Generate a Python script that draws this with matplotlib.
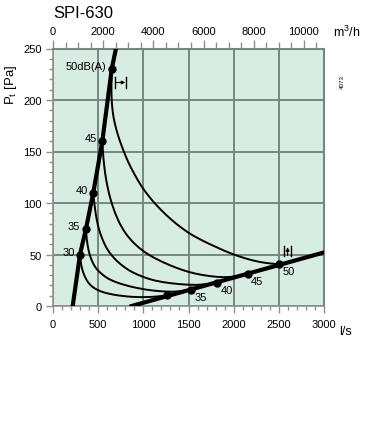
import numpy as np
import matplotlib
matplotlib.use("Agg")
import matplotlib.pyplot as plt
from matplotlib.path import Path
from matplotlib.patches import PathPatch
from matplotlib.ticker import MultipleLocator

plt.rcParams['font.family'] = ['Liberation Sans', 'DejaVu Sans']

# ---------- data (l/s, Pa) ----------
levels = [30, 35, 40, 45, 50]

# steep system line, dB points on it
left_q = [299, 365, 446, 546, 650]
left_p = [50, 75, 110, 160, 230]
left_end_q = [218, 697]
left_end_p = [0, 250]

# flat system line, dB points on it
right_q = [1260, 1530, 1820, 2155, 2500]
right_p = [10.5, 16, 22.5, 31, 40.5]
right_line_q = [871, 3000]
right_line_p = [0, 52]

# iso-sound curves
curve_30_q = [299, 304, 312, 325, 345, 372, 410, 460, 530, 612, 720, 871, 1000, 1129, 1200, 1260]
curve_30_p = [50, 45, 40, 35, 30, 25, 20.5, 17, 14, 12, 10.2, 8.8, 8.5, 9, 9.7, 10.5]
curve_35_q = [365, 370, 378, 391, 410, 440, 465, 502, 560, 620, 700, 760, 850, 960, 1055, 1200,
              1314, 1420, 1530]
curve_35_p = [75, 68, 62, 55, 48.5, 42, 38, 34, 29.5, 26, 23, 21.3, 19, 17, 15.5, 14.2,
              13.8, 14.3, 16]
curve_40_q = [446, 452, 460, 475, 495, 520, 560, 600, 650, 720, 800, 871, 1000, 1129, 1300,
              1498, 1650, 1820]
curve_40_p = [110, 104, 98, 88, 79, 71, 62, 55, 49, 42.5, 37, 33, 28, 24.5, 22,
              20.5, 20.5, 22.5]
curve_45_q = [546, 552, 562, 576, 600, 631, 686, 760, 850, 944, 1050, 1203, 1350, 1498, 1650,
              1830, 1950, 2050, 2155]
curve_45_p = [160, 150, 140, 129, 117, 105, 90, 76, 65, 57, 50, 43, 37.5, 33, 30,
              28, 28, 29.2, 31]
curve_50_q = [650, 646, 648, 656, 670, 690, 715, 745, 779, 830, 900, 980, 1060, 1148, 1250,
              1360, 1498, 1600, 1700, 1800, 1900, 2000, 2100, 2200, 2300, 2400, 2500]
curve_50_p = [230, 215, 202, 192, 183, 175, 167, 159, 151, 140, 128, 116, 106.5, 97.5, 88.5,
              80, 71, 66, 61.5, 57.5, 53.5, 50, 47, 44.5, 42.5, 41.3, 40.5]

curves_q = [curve_30_q, curve_35_q, curve_40_q, curve_45_q, curve_50_q]
curves_p = [curve_30_p, curve_35_p, curve_40_p, curve_45_p, curve_50_p]

left_labels = ["30", "35", "40", "45", "50dB(A)"]
right_labels = ["", "35", "40", "45", "50"]

x_ticks = [0, 500, 1000, 1500, 2000, 2500, 3000]
y_ticks = [0, 50, 100, 150, 200, 250]
top_ticks = [0, 2000, 4000, 6000, 8000, 10000]


def smooth_path(xs, ys):
    # quadratic b-spline path through the read points (matplotlib draws the beziers)
    pts = list(zip(xs, ys))
    verts = [pts[0]]
    codes = [Path.MOVETO]
    for i in range(1, len(pts) - 1):
        a, b = pts[i], pts[i + 1]
        end = b if i == len(pts) - 2 else ((a[0] + b[0]) / 2, (a[1] + b[1]) / 2)
        verts += [a, end]
        codes += [Path.CURVE3, Path.CURVE3]
    return Path(verts, codes)


# ---------- figure ----------
W, H = 368, 427
BG = "#d7ece2"
GRID = "#74887e"
AXC = "#8f8f8f"

fig = plt.figure(figsize=(W / 100, H / 100), dpi=100)
ax = fig.add_axes([53 / W, 1 - 307 / H, 271 / W, 257.5 / H])
ax.set_facecolor(BG)
ax.set_xlim(0, 3000)
ax.set_ylim(0, 250)

ax.set_xticks(x_ticks)
ax.set_yticks(y_ticks)
ax.xaxis.set_minor_locator(MultipleLocator(100))
ax.yaxis.set_minor_locator(MultipleLocator(10))
ax.grid(True, which="major", color=GRID, lw=1.4)
ax.tick_params(which="major", direction="out", length=5, width=1, color=AXC,
               labelsize=8, pad=3)
ax.tick_params(which="minor", direction="out", length=3, width=1, color=AXC)
ax.tick_params(axis="x", pad=4)

for s in ["left", "bottom"]:
    ax.spines[s].set_color(AXC)
    ax.spines[s].set_linewidth(1.2)
for s in ["top", "right"]:
    ax.spines[s].set_color(GRID)
    ax.spines[s].set_linewidth(1.5)

# top axis in m3/h
sec = ax.secondary_xaxis("top", functions=(lambda q: q * 3.6, lambda m: m / 3.6))
sec.set_xticks(top_ticks)
sec.xaxis.set_minor_locator(MultipleLocator(500))
sec.tick_params(which="major", direction="out", length=6, width=1, color=AXC,
                labelsize=8, pad=3)
sec.tick_params(which="minor", direction="out", length=4, width=1, color=AXC)
sec.spines["top"].set_visible(False)

# ---------- curves ----------
for cq, cp in zip(curves_q, curves_p):
    ax.add_patch(PathPatch(smooth_path(cq, cp), facecolor="none", edgecolor="black",
                           lw=1.4, capstyle="round", zorder=3))

ax.plot([left_end_q[0]] + left_q + [left_end_q[1]],
        [left_end_p[0]] + left_p + [left_end_p[1]],
        color="black", lw=3, zorder=4)
ax.plot(right_line_q, right_line_p, color="black", lw=3, zorder=4)
ax.plot(left_q, left_p, "o", color="black", ms=5, zorder=5)
ax.plot(right_q, right_p, "o", color="black", ms=5, zorder=5)

for q, p, t in zip(left_q, left_p, left_labels):
    ax.annotate(t, (q, p), xytext=(-4, 2), textcoords="offset points",
                ha="right", va="center", fontsize=8)
for q, p, t in zip(right_q, right_p, right_labels):
    if t:
        ax.annotate(t, (q, p), xytext=(2.5, -1.5), textcoords="offset points",
                    ha="left", va="top", fontsize=8)

# tolerance marks
ax.plot([690, 690], [212, 222], color="black", lw=1)
ax.plot([805, 805], [212, 222], color="black", lw=1)
ax.annotate("", xy=(800, 217), xytext=(700, 217),
            arrowprops=dict(arrowstyle="-|>", lw=0.8, color="black",
                            mutation_scale=5, shrinkA=0, shrinkB=0))
ax.plot([2560, 2560], [48.5, 58], color="black", lw=1)
ax.plot([2635, 2635], [48.5, 58], color="black", lw=1)
ax.annotate("", xy=(2597, 57), xytext=(2597, 49),
            arrowprops=dict(arrowstyle="-|>", lw=0.8, color="black",
                            mutation_scale=5, shrinkA=0, shrinkB=0))

# ---------- texts ----------
fig.text(53 / W, 1 - 13 / H, "SPI-630", fontsize=12, ha="left", va="center")
fig.text(333 / W, 1 - 37 / H, "m$^\\mathregular{3}$/h", fontsize=9, ha="left",
         va="baseline")
fig.text(339 / W, 1 - 335 / H, "l/s", fontsize=9, ha="left", va="baseline")
fig.text(11 / W, 1 - 85 / H, "P$_\\mathregular{t}$ [Pa]", fontsize=9.5,
         rotation=90, ha="center", va="center")
fig.text(342 / W, 1 - 82 / H, "4073", fontsize=4.5, rotation=90,
         ha="center", va="center")

fig.savefig("out.png", dpi=100, facecolor="white")
